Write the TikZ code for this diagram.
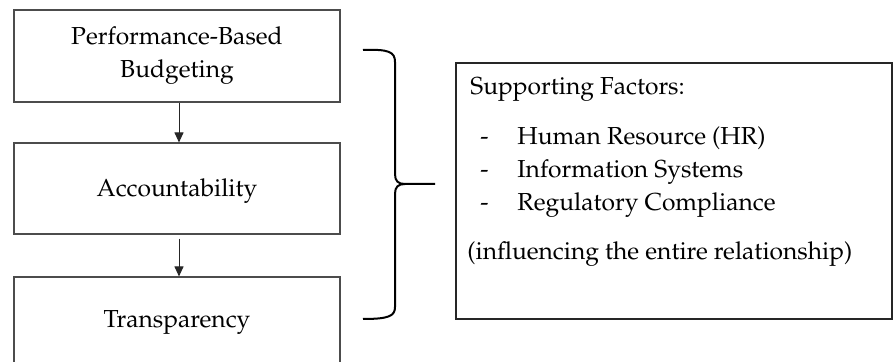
\documentclass[tikz,border=0pt]{standalone}
\usepackage[T1]{fontenc}
\usepackage{mathpazo}
\usetikzlibrary{arrows.meta}
\tikzset{
  txt/.style={font=\fontsize{12.3}{16.5}\selectfont, inner sep=0pt},
  leftbox/.style={draw=black!70, line width=0.55pt, minimum width=163pt, align=center, txt},
  sidebox/.style={draw=black!85, line width=0.55pt, minimum width=218pt, minimum height=128pt},
  arr/.style={draw=black!85, line width=0.5pt, -{Triangle[length=5pt,width=4.5pt]}},
  bracestyle/.style={draw=black, line width=1pt, line join=round},
}
\begin{document}
\begin{tikzpicture}[x=0.5pt,y=-0.5pt]
\useasboundingbox (0,0) rectangle (896,362);
\clip (0,0) rectangle (896,362);
% left column
\node[leftbox, minimum height=46pt] (pbb) at (177,56) {Performance-Based\\Budgeting};
\node[leftbox, minimum height=45.5pt, text height=11.8pt, text depth=3.3pt] (acc) at (177,188.5) {Accountability};
\node[leftbox, minimum height=45pt] (tra) at (177,322) {Transparency};
\coordinate (ax) at (179,0);
\draw[arr] (pbb.south -| ax) -- (acc.north -| ax);
\draw[arr, shorten <=2pt] (acc.south -| ax) -- (tra.north -| ax);
% brace
\coordinate (btip) at (435,184);
\draw[bracestyle] (363,50) .. controls (389,49) and (395,52) .. (395,62) -- (395,174)
  .. controls (395,181) and (398,184) .. (405,184) -- (btip);
\draw[bracestyle] (405,184) .. controls (398,184) and (395,187) .. (395,194) -- (395,307)
  .. controls (395,316) and (389,319) .. (363,319);
% supporting factors box
\node[sidebox] (sf) at (674,191) {};
\node[txt, anchor=base west] (title) at (470,95) {Supporting Factors:};
\node[txt, anchor=base west] (d1) at (480,145) {-};
\node[txt, anchor=base west] (i1) at (517,145) {Human Resource (HR)};
\node[txt, anchor=base west] (d2) at (480,178) {-};
\node[txt, anchor=base west] (i2) at (517,178) {Information Systems};
\node[txt, anchor=base west] (d3) at (480,211) {-};
\node[txt, anchor=base west] (i3) at (517,211) {Regulatory Compliance};
\node[txt, anchor=base west] (note) at (467,260) {(influencing the entire relationship)};
\end{tikzpicture}
\end{document}
